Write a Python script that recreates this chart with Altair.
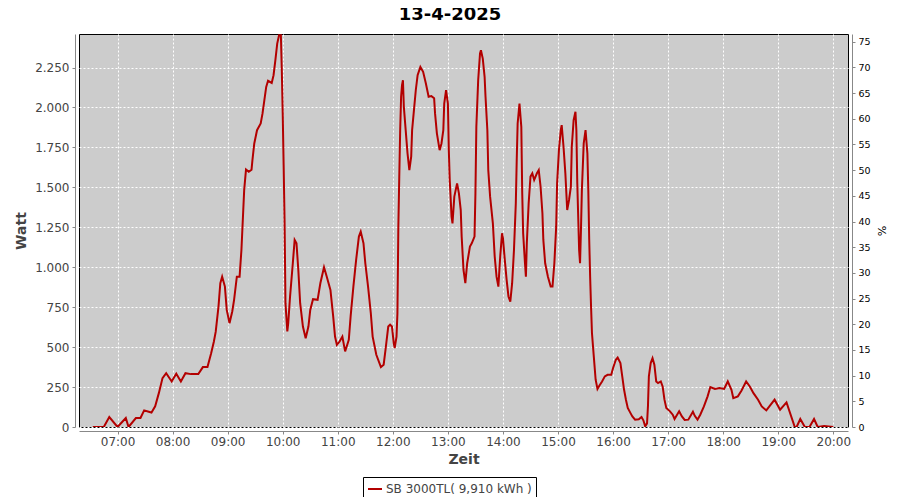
import altair as alt
import pandas as pd

# ---- data ----
times = [
    "06:33", "06:45", "06:51", "07:00", "07:09", "07:12", "07:20", "07:25", "07:29", "07:34",
    "07:37", "07:41", "07:45", "07:49", "07:53", "07:59", "08:04", "08:09", "08:14", "08:20",
    "08:28", "08:33", "08:38", "08:42", "08:45", "08:47", "08:50", "08:52", "08:54", "08:57",
    "08:59", "09:02", "09:05", "09:07", "09:10", "09:13", "09:15", "09:16", "09:17", "09:18",
    "09:20", "09:23", "09:26", "09:27", "09:29", "09:32", "09:36", "09:38", "09:40", "09:42",
    "09:44", "09:48", "09:50", "09:52", "09:54", "09:56", "09:58", "09:59", "10:00", "10:01",
    "10:02", "10:03", "10:05", "10:06", "10:08", "10:11", "10:13", "10:15", "10:17", "10:19",
    "10:22", "10:25", "10:28", "10:30", "10:33", "10:38", "10:41", "10:45", "10:48", "10:52",
    "10:55", "10:57", "10:59", "11:02", "11:05", "11:08", "11:12", "11:14", "11:17", "11:20",
    "11:23", "11:25", "11:28", "11:30", "11:33", "11:36", "11:38", "11:42", "11:47", "11:50",
    "11:52", "11:55", "11:57", "11:59", "12:01", "12:02", "12:04", "12:05", "12:06", "12:07",
    "12:08", "12:09", "12:10", "12:11", "12:12", "12:14", "12:16", "12:18", "12:20", "12:21",
    "12:23", "12:25", "12:27", "12:30", "12:33", "12:36", "12:39", "12:42", "12:45", "12:46",
    "12:48", "12:51", "12:53", "12:55", "12:56", "12:58", "13:00", "13:01", "13:02", "13:04",
    "13:05", "13:07", "13:10", "13:12", "13:14", "13:15", "13:17", "13:19", "13:21", "13:24",
    "13:26", "13:29", "13:30", "13:31", "13:33", "13:35", "13:36", "13:38", "13:40", "13:41",
    "13:43", "13:44", "13:46", "13:49", "13:51", "13:53", "13:55", "13:57", "13:59", "14:00",
    "14:02", "14:04", "14:06", "14:08", "14:10", "14:12", "14:14", "14:15", "14:16", "14:18",
    "14:20", "14:21", "14:22", "14:24", "14:25", "14:26", "14:28", "14:30", "14:32", "14:34",
    "14:37", "14:39", "14:41", "14:43", "14:44", "14:46", "14:49", "14:52", "14:54", "14:56",
    "14:58", "14:59", "15:01", "15:03", "15:04", "15:06", "15:08", "15:10", "15:12", "15:14",
    "15:15", "15:17", "15:19", "15:20", "15:21", "15:23", "15:24", "15:25", "15:26", "15:28",
    "15:30", "15:32", "15:33", "15:34", "15:35", "15:36", "15:37", "15:39", "15:41", "15:43",
    "15:45", "15:48", "15:51", "15:54", "15:58", "16:00", "16:03", "16:05", "16:08", "16:10",
    "16:12", "16:14", "16:16", "16:19", "16:21", "16:24", "16:28", "16:31", "16:33", "16:35",
    "16:37", "16:38", "16:39", "16:41", "16:43", "16:45", "16:47", "16:49", "16:52", "16:54",
    "16:56", "16:58", "17:02", "17:05", "17:07", "17:12", "17:15", "17:18", "17:22", "17:27",
    "17:29", "17:32", "17:35", "17:39", "17:43", "17:46", "17:51", "17:56", "18:01", "18:05",
    "18:09", "18:11", "18:16", "18:20", "18:25", "18:29", "18:33", "18:38", "18:42", "18:47",
    "18:56", "19:02", "19:09", "19:18", "19:20", "19:24", "19:29", "19:34", "19:39", "19:43",
    "19:50", "20:00",
]
watts = [
    0, 0, 62, 0, 56, 0, 56, 56, 104, 96,
    91, 129, 212, 306, 337, 285, 333, 285, 337, 331,
    331, 375, 375, 462, 535, 597, 754, 900, 941, 879,
    733, 650, 723, 796, 941, 941, 1108, 1233, 1358, 1483,
    1612, 1598, 1610, 1671, 1775, 1858, 1900, 1963, 2046, 2129,
    2167, 2154, 2202, 2296, 2400, 2452, 2452, 2233, 1963, 1640,
    1296, 775, 598, 650, 817, 1025, 1171, 1150, 983, 775,
    629, 556, 629, 733, 800, 796, 900, 1000, 941, 858,
    692, 566, 514, 535, 566, 473, 546, 692, 879, 1046,
    1192, 1223, 1150, 1025, 879, 712, 566, 452, 375, 390,
    483, 629, 640, 629, 525, 494, 566, 712, 1254, 1567,
    1858, 2067, 2140, 2171, 2004, 1858, 1713, 1608, 1692, 1858,
    1983, 2108, 2202, 2254, 2223, 2150, 2067, 2071, 2058, 1963,
    1838, 1733, 1775, 1858, 2025, 2108, 2025, 1733, 1546, 1317,
    1275, 1442, 1525, 1463, 1358, 1192, 983, 900, 1025, 1129,
    1150, 1192, 1463, 1879, 2171, 2338, 2358, 2306, 2192, 2067,
    1858, 1608, 1442, 1275, 1067, 941, 879, 1067, 1213, 1181,
    1046, 921, 817, 785, 900, 1108, 1400, 1671, 1900, 2025,
    1879, 1463, 1213, 1025, 941, 1150, 1400, 1567, 1588, 1546,
    1588, 1608, 1504, 1338, 1171, 1025, 941, 879, 879, 1025,
    1254, 1525, 1733, 1858, 1890, 1754, 1588, 1358, 1421, 1504,
    1754, 1921, 1973, 1858, 1525, 1108, 1025, 1233, 1483, 1775,
    1858, 1713, 1483, 1171, 941, 754, 587, 441, 296, 238,
    258, 285, 317, 327, 327, 369, 421, 435, 400, 317,
    233, 171, 119, 87, 66, 46, 48, 62, 42, 4,
    23, 129, 317, 400, 431, 390, 285, 275, 285, 254,
    171, 119, 98, 77, 50, 98, 66, 44, 46, 96,
    70, 46, 77, 129, 192, 250, 238, 244, 238, 285,
    233, 181, 192, 229, 285, 254, 212, 171, 129, 104,
    171, 108, 154, 0, 0, 50, 0, 0, 50, 0,
    6, 0,
]
series_name = "SB 3000TL( 9,910 kWh )"
hour_ticks = [420, 480, 540, 600, 660, 720, 780, 840, 900, 960, 1020, 1080, 1140, 1200]
watt_ticks = [0, 250, 500, 750, 1000, 1250, 1500, 1750, 2000, 2250]
pct_ticks = [0, 5, 10, 15, 20, 25, 30, 35, 40, 45, 50, 55, 60, 65, 70, 75]
x_domain = [378, 1216]
watt_domain = [0, 2460]
pct_domain = [0, 76.5]

minutes = [int(t[:2]) * 60 + int(t[3:]) for t in times]
df = pd.DataFrame({"minute": minutes, "watt": watts, "serie": series_name})
pct_df = pd.DataFrame({"pct": [pct_domain[0], pct_domain[1]]})

FONT = "DejaVu Sans"
AX_GRAY = "#888888"
TXT = "#444444"

line = alt.Chart(df).mark_line(strokeWidth=2, clip=True).encode(
    x=alt.X(
        "minute:Q",
        scale=alt.Scale(domain=x_domain, nice=False, zero=False),
        axis=alt.Axis(
            values=hour_ticks,
            labelExpr="(datum.value < 600 ? '0' : '') + floor(datum.value / 60) + ':00'",
            title="Zeit", titleFontSize=14, titleFontWeight="bold", titleColor=TXT,
            titlePadding=5, labelFontSize=12, labelColor=TXT, labelPadding=2,
            labelFlush=False, tickSize=3, tickColor=AX_GRAY, domainColor=AX_GRAY,
            offset=4, grid=True, gridColor="white", gridDash=[2, 2], gridWidth=1,
        ),
    ),
    y=alt.Y(
        "watt:Q",
        scale=alt.Scale(domain=watt_domain, nice=False),
        axis=alt.Axis(
            values=watt_ticks,
            labelExpr="replace(format(datum.value, ','), ',', '.')",
            title="Watt", titleFontSize=14, titleFontWeight="bold", titleColor=TXT,
            titlePadding=6, labelFontSize=12, labelColor=TXT, labelPadding=3,
            tickSize=3, tickColor=AX_GRAY, domainColor=AX_GRAY, offset=4,
            grid=True, gridColor="white", gridDash=[2, 2], gridWidth=1,
        ),
    ),
    color=alt.Color(
        "serie:N",
        scale=alt.Scale(range=["#b30000"]),
        legend=alt.Legend(
            title=None, orient="none", legendX=284, legendY=443,
            direction="horizontal", strokeColor="black", fillColor="white",
            padding=4, cornerRadius=0, symbolType="stroke", symbolSize=196,
            symbolStrokeWidth=2, labelFontSize=12, labelColor=TXT, labelFont=FONT,
            labelOffset=3, labelLimit=300,
        ),
    ),
)

pct = alt.Chart(pct_df).mark_point(opacity=0).encode(
    y=alt.Y(
        "pct:Q",
        scale=alt.Scale(domain=pct_domain, nice=False),
        axis=alt.Axis(
            orient="right", values=pct_ticks, title="%", titleFontSize=11,
            titleFontWeight="normal", titleColor="black", titlePadding=5,
            labelFontSize=9.5, labelColor="black", labelPadding=3,
            tickSize=3, tickColor=AX_GRAY, domainColor=AX_GRAY, offset=4, grid=False,
        ),
    )
)

chart = (
    alt.layer(line, pct)
    .resolve_scale(y="independent")
    .properties(
        width=769,
        height=393,
        title=alt.TitleParams(
            "13-4-2025", fontSize=18, fontWeight="bold", font=FONT, color="black",
            anchor="middle", dx=-13.5, offset=7,
        ),
        autosize=alt.AutoSizeParams(type="none"),
        padding={"left": 71, "top": 26, "right": 44, "bottom": 70},
    )
    .configure(font=FONT)
    .configure_view(fill="#cccccc", stroke="black", strokeWidth=1)
)

chart.save("out.html", embed_options={"renderer": "svg", "actions": False})
